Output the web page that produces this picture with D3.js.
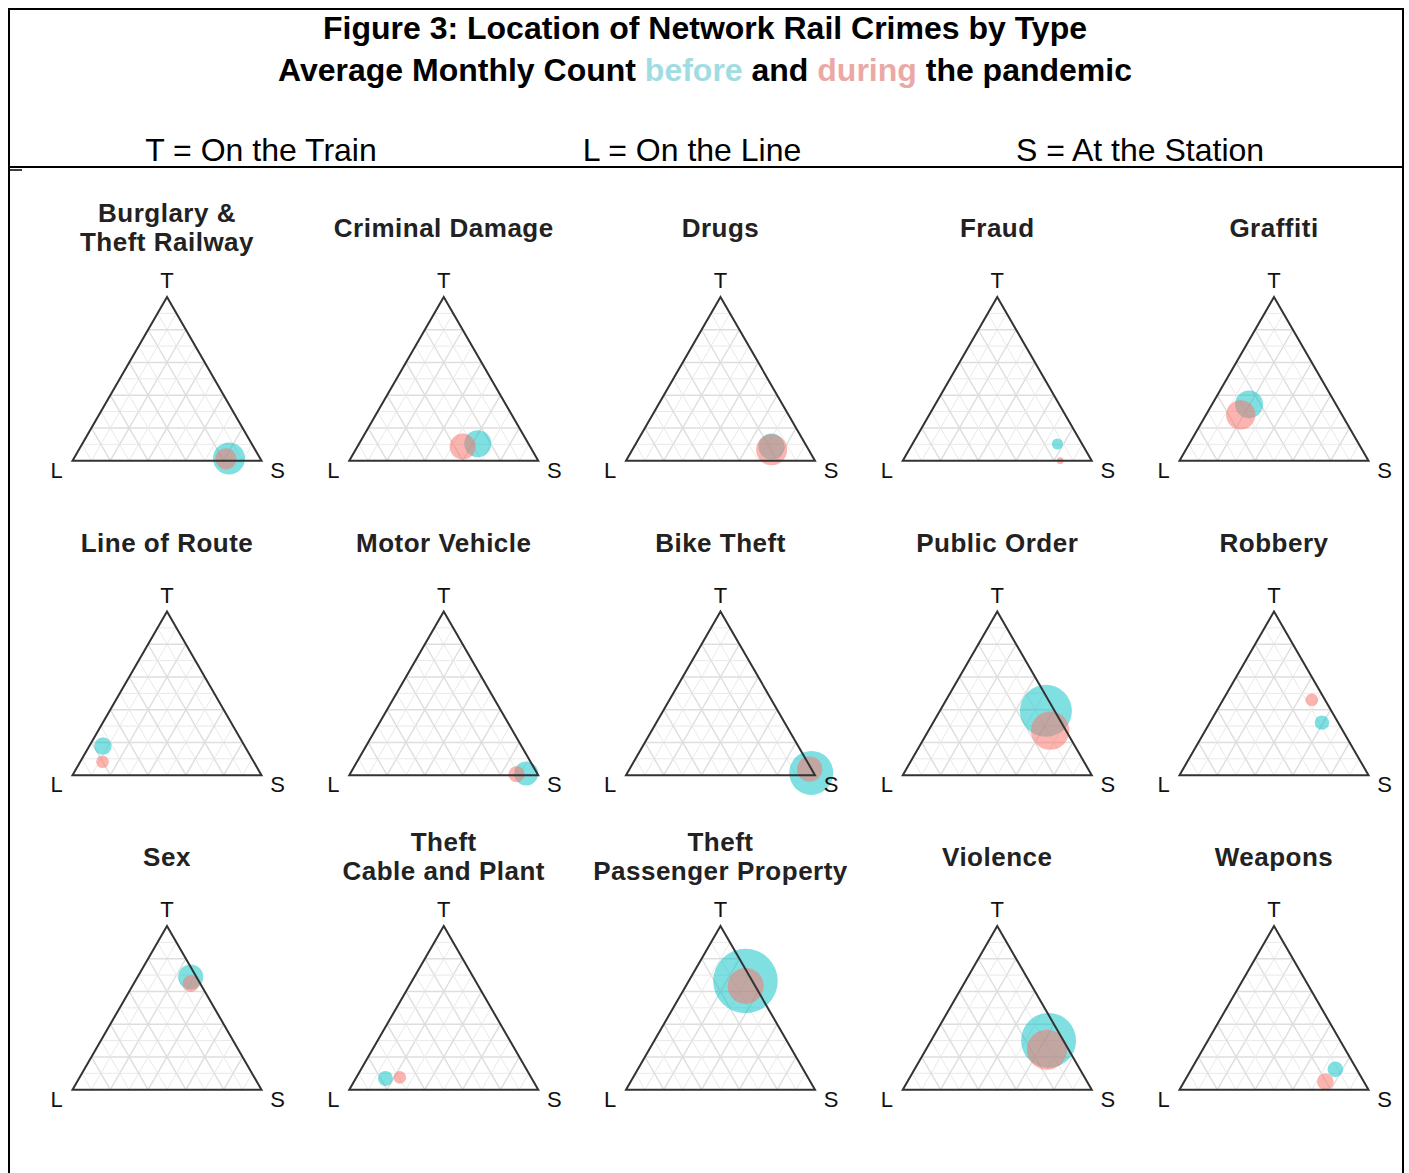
<!DOCTYPE html>
<html>
<head>
<meta charset="utf-8">
<title>Figure 3</title>
<script src="https://d3js.org/d3.v7.min.js"></script>
<style>
  body { margin: 0; background: #fff; }
  text { font-family: "Liberation Sans", Arial, sans-serif; }
</style>
</head>
<body>
<svg id="chart" width="1409" height="1173"></svg>
<script>
// crime types (panel order, left to right, top to bottom)
const crimeTypes = ["Burglary &\nTheft Railway", "Criminal Damage", "Drugs", "Fraud", "Graffiti",
  "Line of Route", "Motor Vehicle", "Bike Theft", "Public Order", "Robbery",
  "Sex", "Theft\nCable and Plant", "Theft\nPassenger Property", "Violence", "Weapons"];

// % of crimes on the Train / on the Line / at the Station, and average monthly count
const beforeT = [1.4, 10.4, 8.6, 10.2, 34.4, 17.8, 1.0, 1.4, 39.3, 32.1, 68.9, 6.9, 66.4, 30.1, 12.5];
const beforeL = [16.5, 26.8, 18.7, 13.1, 46.0, 75.0, 5.9, 1.3, 4.6, 8.6, 3.0, 77.4, 3.6, 7.8, 11.3];
const beforeS = [82.1, 62.8, 72.7, 76.7, 19.6, 7.2, 93.1, 97.3, 56.1, 59.3, 28.1, 15.7, 30.0, 62.1, 76.2];
const beforeCount = [250, 178, 165, 30, 191, 74, 141, 473, 660, 51, 153, 55, 1019, 739, 59];

const duringT = [1.2, 8.6, 6.7, 0.0, 28.0, 8.2, 0.6, 3.7, 27.2, 46.0, 64.8, 7.5, 63.4, 24.4, 4.9];
const duringL = [18.2, 35.7, 19.6, 16.7, 53.6, 80.0, 11.2, 1.0, 8.4, 7.0, 5.0, 69.5, 5.0, 11.5, 20.4];
const duringS = [80.6, 55.7, 73.7, 83.3, 18.4, 11.8, 88.2, 95.3, 64.4, 47.0, 30.2, 23.0, 31.6, 64.1, 74.7];
const duringCount = [108, 165, 235, 11, 211, 39, 63, 158, 360, 39, 67, 39, 316, 391, 67];

const legendItems = ["T = On the Train", "L = On the Line", "S = At the Station"];

const blue = "#00BFC4", red = "#F8766D";

const svg = d3.select("#chart");

// frame
svg.append("path")
  .attr("d", "M9,1173 V9 H1403 V1173")
  .attr("fill", "none").attr("stroke", "#000").attr("stroke-width", 2);
svg.append("line").attr("x1", 9).attr("x2", 1403).attr("y1", 167).attr("y2", 167)
  .attr("stroke", "#000").attr("stroke-width", 2);
svg.append("line").attr("x1", 9).attr("x2", 22).attr("y1", 170).attr("y2", 170)
  .attr("stroke", "#000").attr("stroke-width", 1.5);

// header
svg.append("text").attr("x", 705).attr("y", 39).attr("text-anchor", "middle")
  .attr("font-size", 32).attr("font-weight", "bold")
  .text("Figure 3: Location of Network Rail Crimes by Type");
let sub = svg.append("text").attr("x", 705).attr("y", 81).attr("text-anchor", "middle")
  .attr("font-size", 32).attr("font-weight", "bold");
sub.append("tspan").text("Average Monthly Count ");
sub.append("tspan").attr("fill", "#9fdde2").text("before");
sub.append("tspan").text(" and ");
sub.append("tspan").attr("fill", "#eba9a6").text("during");
sub.append("tspan").text(" the pandemic");

svg.selectAll(".legend").data(legendItems).enter().append("text")
  .attr("class", "legend")
  .attr("x", (d, i) => [261, 692, 1140][i])
  .attr("y", 161).attr("text-anchor", "middle").attr("font-size", 32)
  .text(d => d);

// panel layout
const colX = d3.scalePoint().domain(d3.range(5)).range([167, 1274]);
const rowY = d3.scalePoint().domain(d3.range(3)).range([297, 926]);
const side = 189, half = side / 2, tri = side * Math.sqrt(3) / 2;
const rScale = d3.scaleSqrt().domain([0, 1000]).range([0, 32]);

crimeTypes.forEach((name, i) => {
  const ax = colX(i % 5), ay = rowY(Math.floor(i / 5));
  const yT = d3.scaleLinear().domain([0, 1]).range([ay + tri, ay]);
  const xSL = d3.scaleLinear().domain([-1, 1]).range([ax - half, ax + half]);
  const proj = (t, l, s) => [xSL(s - l), yT(t)];

  const g = svg.append("g");

  // grid
  const grid = [];
  d3.range(1, 10).forEach(k => {
    const f = k / 10;
    grid.push({ a: proj(f, 1 - f, 0), b: proj(f, 0, 1 - f), major: k % 2 == 0 });
    grid.push({ a: proj(1 - f, f, 0), b: proj(0, f, 1 - f), major: k % 2 == 0 });
    grid.push({ a: proj(1 - f, 0, f), b: proj(0, 1 - f, f), major: k % 2 == 0 });
  });
  g.selectAll(".grid").data(grid).enter().append("line")
    .attr("x1", d => d.a[0]).attr("y1", d => d.a[1])
    .attr("x2", d => d.b[0]).attr("y2", d => d.b[1])
    .attr("stroke", d => d.major ? "#dedede" : "#e9e9e9")
    .attr("stroke-width", d => d.major ? 1.4 : 1);

  // points: before then during
  const pts = [
    { t: beforeT[i], l: beforeL[i], s: beforeS[i], n: beforeCount[i], c: blue, o: 0.5 },
    { t: duringT[i], l: duringL[i], s: duringS[i], n: duringCount[i], c: red, o: 0.55 }
  ];
  g.selectAll(".pt").data(pts).enter().append("circle")
    .attr("cx", d => proj(d.t / 100, d.l / 100, d.s / 100)[0])
    .attr("cy", d => proj(d.t / 100, d.l / 100, d.s / 100)[1])
    .attr("r", d => rScale(d.n))
    .attr("fill", d => d.c).attr("fill-opacity", d => d.o);

  // triangle outline
  const corners = [proj(1, 0, 0), proj(0, 1, 0), proj(0, 0, 1)];
  g.append("path")
    .attr("d", d3.line()(corners) + "Z")
    .attr("fill", "none").attr("stroke", "#333").attr("stroke-width", 2);

  // corner labels
  g.append("text").attr("x", ax).attr("y", ay - 9).attr("text-anchor", "middle")
    .attr("font-size", 22).attr("fill", "#111").text("T");
  g.append("text").attr("x", ax - half - 16).attr("y", ay + tri + 17).attr("text-anchor", "middle")
    .attr("font-size", 22).attr("fill", "#111").text("L");
  g.append("text").attr("x", ax + half + 16).attr("y", ay + tri + 17).attr("text-anchor", "middle")
    .attr("font-size", 22).attr("fill", "#111").text("S");

  // panel title
  const lines = name.split("\n");
  const title = g.append("text").attr("x", ax).attr("text-anchor", "middle")
    .attr("font-size", 26).attr("font-weight", "bold").attr("fill", "#222")
    .attr("letter-spacing", 0.5);
  lines.forEach((ln, j) => {
    const y0 = lines.length == 1 ? ay - 60 : ay - 75 + j * 29;
    title.append("tspan").attr("x", ax).attr("y", y0).text(ln);
  });
});
</script>
</body>
</html>
